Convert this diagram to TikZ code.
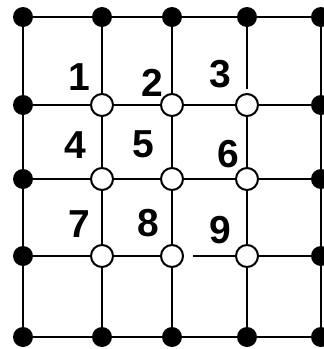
\documentclass[tikz,border=0pt]{standalone}
\usepackage{fontspec}
\setmainfont{Liberation Sans}
\tikzset{
  dotnode/.style={circle, fill=black, inner sep=0pt, minimum size=20pt},
  opennode/.style={circle, draw=black, fill=white, line width=2pt, inner sep=0pt, minimum size=22pt},
  gridline/.style={line width=2.5pt, black},
  numlabel/.style={inner sep=0pt, font=\fontsize{39}{39}\selectfont\bfseries}
}
\begin{document}
\begin{tikzpicture}[x=1pt, y=-1pt]
\useasboundingbox (0,0) rectangle (324,349);
\def\xa{23}\def\xb{102}\def\xc{172}\def\xd{247}\def\xe{321}
\def\ya{17}\def\yb{105}\def\yc{179}\def\yd{256}\def\ye{337}
% perimeter dots
\foreach \c/\x in {1/\xa,2/\xb,3/\xc,4/\xd,5/\xe}{
  \node[dotnode] (n1\c) at (\x,\ya) {};
  \node[dotnode] (n5\c) at (\x,\ye) {};
}
\foreach \r/\y in {2/\yb,3/\yc,4/\yd}{
  \node[dotnode] (n\r1) at (\xa,\y) {};
  \node[dotnode] (n\r5) at (\xe,\y) {};
}
% interior open nodes
\foreach \r/\y in {2/\yb,3/\yc,4/\yd}{
  \foreach \c/\x in {2/\xb,3/\xc,4/\xd}{
    \node[opennode] (n\r\c) at (\x,\y) {};
  }
}
% horizontal edges
\foreach \r in {1,...,5}{
  \foreach \c [evaluate=\c as \cn using int(\c+1)] in {1,...,4}{
    \ifnum\r\c=43
      \draw[gridline, shorten <=9pt] (n\r\c) -- (n\r\cn);
    \else
      \draw[gridline] (n\r\c) -- (n\r\cn);
    \fi
  }
}
% vertical edges
\foreach \c in {1,...,5}{
  \foreach \r [evaluate=\r as \rn using int(\r+1)] in {1,...,4}{
    \ifnum\c\r=41
      \draw[gridline, shorten >=4pt] (n\r\c) -- (n\rn\c);
    \else
      \draw[gridline] (n\r\c) -- (n\rn\c);
    \fi
  }
}
% labels
\node[numlabel] (l1) at (79,77) {1};
\node[numlabel] (l2) at (152,83) {2};
\node[numlabel] (l3) at (220,74) {3};
\node[numlabel] (l4) at (75,145) {4};
\node[numlabel] (l5) at (143,144) {5};
\node[numlabel] (l6) at (228,154) {6};
\node[numlabel] (l7) at (79,224) {7};
\node[numlabel] (l8) at (148,223) {8};
\node[numlabel] (l9) at (220,230) {9};
\end{tikzpicture}
\end{document}
